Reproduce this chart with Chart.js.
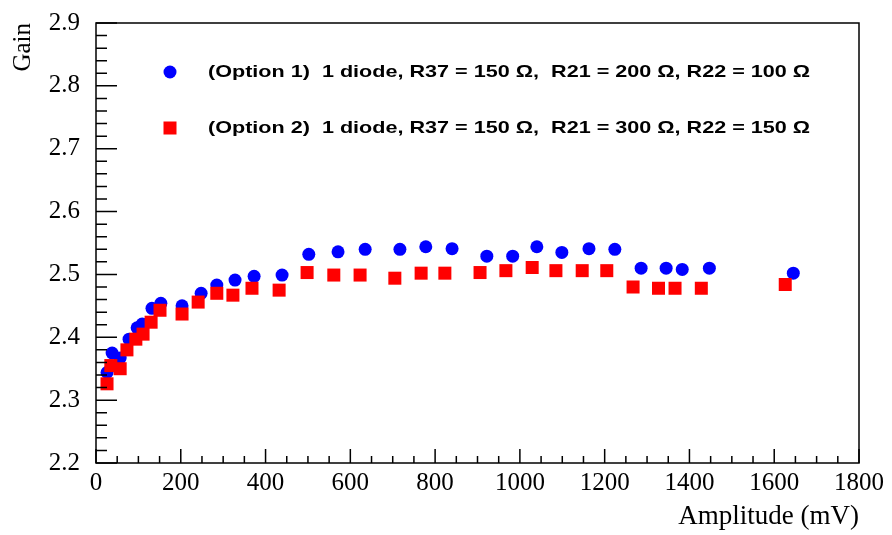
<!DOCTYPE html>
<html>
<head>
<meta charset="utf-8">
<script src="https://cdn.jsdelivr.net/npm/chart.js@4/dist/chart.umd.min.js"></script>
<style>
  html, body { margin: 0; padding: 0; background: #fff; }
  #gainChart { display: block; }
</style>
</head>
<body>
<canvas id="gainChart" width="892" height="535"></canvas>
<script>
// amplitude (mV) and gain
const opt1Amp  = [26, 38, 57, 78, 97, 109, 132, 153, 203, 248, 285, 328, 373, 439,
                  502, 571, 635, 717, 778, 840, 922, 983, 1040, 1099, 1163,
                  1224, 1286, 1345, 1383, 1447, 1645];
const opt1Gain = [2.344, 2.375, 2.367, 2.397, 2.415, 2.421, 2.446, 2.454, 2.450, 2.470, 2.483, 2.491, 2.497, 2.499,
                  2.532, 2.536, 2.540, 2.540, 2.544, 2.541, 2.529, 2.529, 2.544, 2.535, 2.541,
                  2.540, 2.510, 2.510, 2.508, 2.510, 2.502];

const opt2Amp  = [26, 35, 57, 73, 94, 111, 130, 151, 203, 241, 285, 323, 368, 432,
                  498, 561, 623, 705, 767, 823, 906, 967, 1029, 1085, 1147,
                  1205, 1267, 1327, 1366, 1428, 1626];
const opt2Gain = [2.326, 2.355, 2.350, 2.380, 2.397, 2.405, 2.424, 2.443, 2.437, 2.456, 2.470, 2.467, 2.478, 2.475,
                  2.503, 2.499, 2.499, 2.494, 2.502, 2.502, 2.503, 2.506, 2.511, 2.506, 2.506,
                  2.506, 2.480, 2.478, 2.478, 2.478, 2.484];

const seriesLabels = [
    '(Option 1)  1 diode, R37 = 150 \u03A9,  R21 = 200 \u03A9, R22 = 100 \u03A9',
    '(Option 2)  1 diode, R37 = 150 \u03A9,  R21 = 300 \u03A9, R22 = 150 \u03A9'
];

const xRange = [0, 1800];
const yRange = [2.2, 2.9];

function toPoints(xs, ys) {
    return xs.map((x, i) => ({ x: x, y: ys[i] }));
}

// ROOT-style frame with inward ticks on the left and bottom axes
const frameTicks = {
    id: 'frameTicks',
    afterDraw(chart) {
        const ctx = chart.ctx;
        const area = chart.chartArea;
        const xs = chart.scales.x;
        const ys = chart.scales.y;
        ctx.save();
        ctx.strokeStyle = '#000';
        ctx.lineWidth = 1.5;
        ctx.strokeRect(area.left, area.top, area.right - area.left, area.bottom - area.top);
        ctx.beginPath();
        for (let i = 0; i <= 35; i++) {
            const py = ys.getPixelForValue(yRange[0] + i * 0.02);
            const len = i % 5 === 0 ? 21 : 11;
            ctx.moveTo(area.left, py);
            ctx.lineTo(area.left + len, py);
        }
        for (let i = 0; i <= 36; i++) {
            const px = xs.getPixelForValue(xRange[0] + i * 50);
            const len = i % 4 === 0 ? 14 : 7;
            ctx.moveTo(px, area.bottom);
            ctx.lineTo(px, area.bottom - len);
        }
        ctx.stroke();
        ctx.restore();
    }
};

// legend drawn inside the plot, like the original (text is a bit wide there)
const innerLegend = {
    id: 'innerLegend',
    afterDraw(chart) {
        const ctx = chart.ctx;
        const rows = [72, 128];
        chart.data.datasets.forEach((ds, i) => {
            ctx.save();
            ctx.fillStyle = ds.backgroundColor;
            Chart.helpers.drawPoint(ctx, {
                pointStyle: ds.pointStyle,
                radius: ds.pointRadius,
                borderWidth: 0,
                rotation: 0
            }, 170, rows[i]);
            ctx.translate(208, rows[i]);
            ctx.scale(1.27, 1);
            ctx.fillStyle = '#000';
            ctx.font = 'bold 17px "Liberation Sans", Arial, sans-serif';
            ctx.textBaseline = 'middle';
            ctx.textAlign = 'left';
            ctx.fillText(ds.label, 0, 0);
            ctx.restore();
        });
    }
};

const serif = '"Liberation Serif", "Times New Roman", serif';

new Chart(document.getElementById('gainChart'), {
    type: 'scatter',
    data: {
        datasets: [{
            label: seriesLabels[0],
            data: toPoints(opt1Amp, opt1Gain),
            pointStyle: 'circle',
            pointRadius: 6.5,
            backgroundColor: '#0000ff',
            borderWidth: 0,
            order: 2
        }, {
            label: seriesLabels[1],
            data: toPoints(opt2Amp, opt2Gain),
            pointStyle: 'rect',
            pointRadius: 9.2,
            backgroundColor: '#ff0000',
            borderWidth: 0,
            order: 1
        }]
    },
    options: {
        responsive: false,
        animation: false,
        layout: { padding: { top: 16, right: 33, left: 0, bottom: 0 } },
        plugins: {
            legend: { display: false },
            tooltip: { enabled: false }
        },
        scales: {
            x: {
                type: 'linear',
                min: xRange[0],
                max: xRange[1],
                afterFit: s => { s.height = 72; },
                grid: { display: false },
                border: { display: false },
                ticks: {
                    stepSize: 200,
                    color: '#000',
                    padding: -3,
                    maxRotation: 0,
                    font: { family: serif, size: 25 },
                    callback: v => String(v)
                },
                title: {
                    display: true,
                    text: 'Amplitude (mV)',
                    align: 'end',
                    color: '#000',
                    padding: { top: 0, bottom: 2 },
                    font: { family: serif, size: 27 }
                }
            },
            y: {
                min: yRange[0],
                max: yRange[1],
                afterFit: s => { s.width = 96; },
                grid: { display: false },
                border: { display: false },
                ticks: {
                    stepSize: 0.1,
                    color: '#000',
                    padding: 8,
                    font: { family: serif, size: 25 },
                    callback: v => v.toFixed(1)
                },
                title: {
                    display: true,
                    text: 'Gain',
                    align: 'end',
                    color: '#000',
                    padding: { top: 8, bottom: 0 },
                    font: { family: serif, size: 25 }
                }
            }
        }
    },
    plugins: [frameTicks, innerLegend]
});
</script>
</body>
</html>
